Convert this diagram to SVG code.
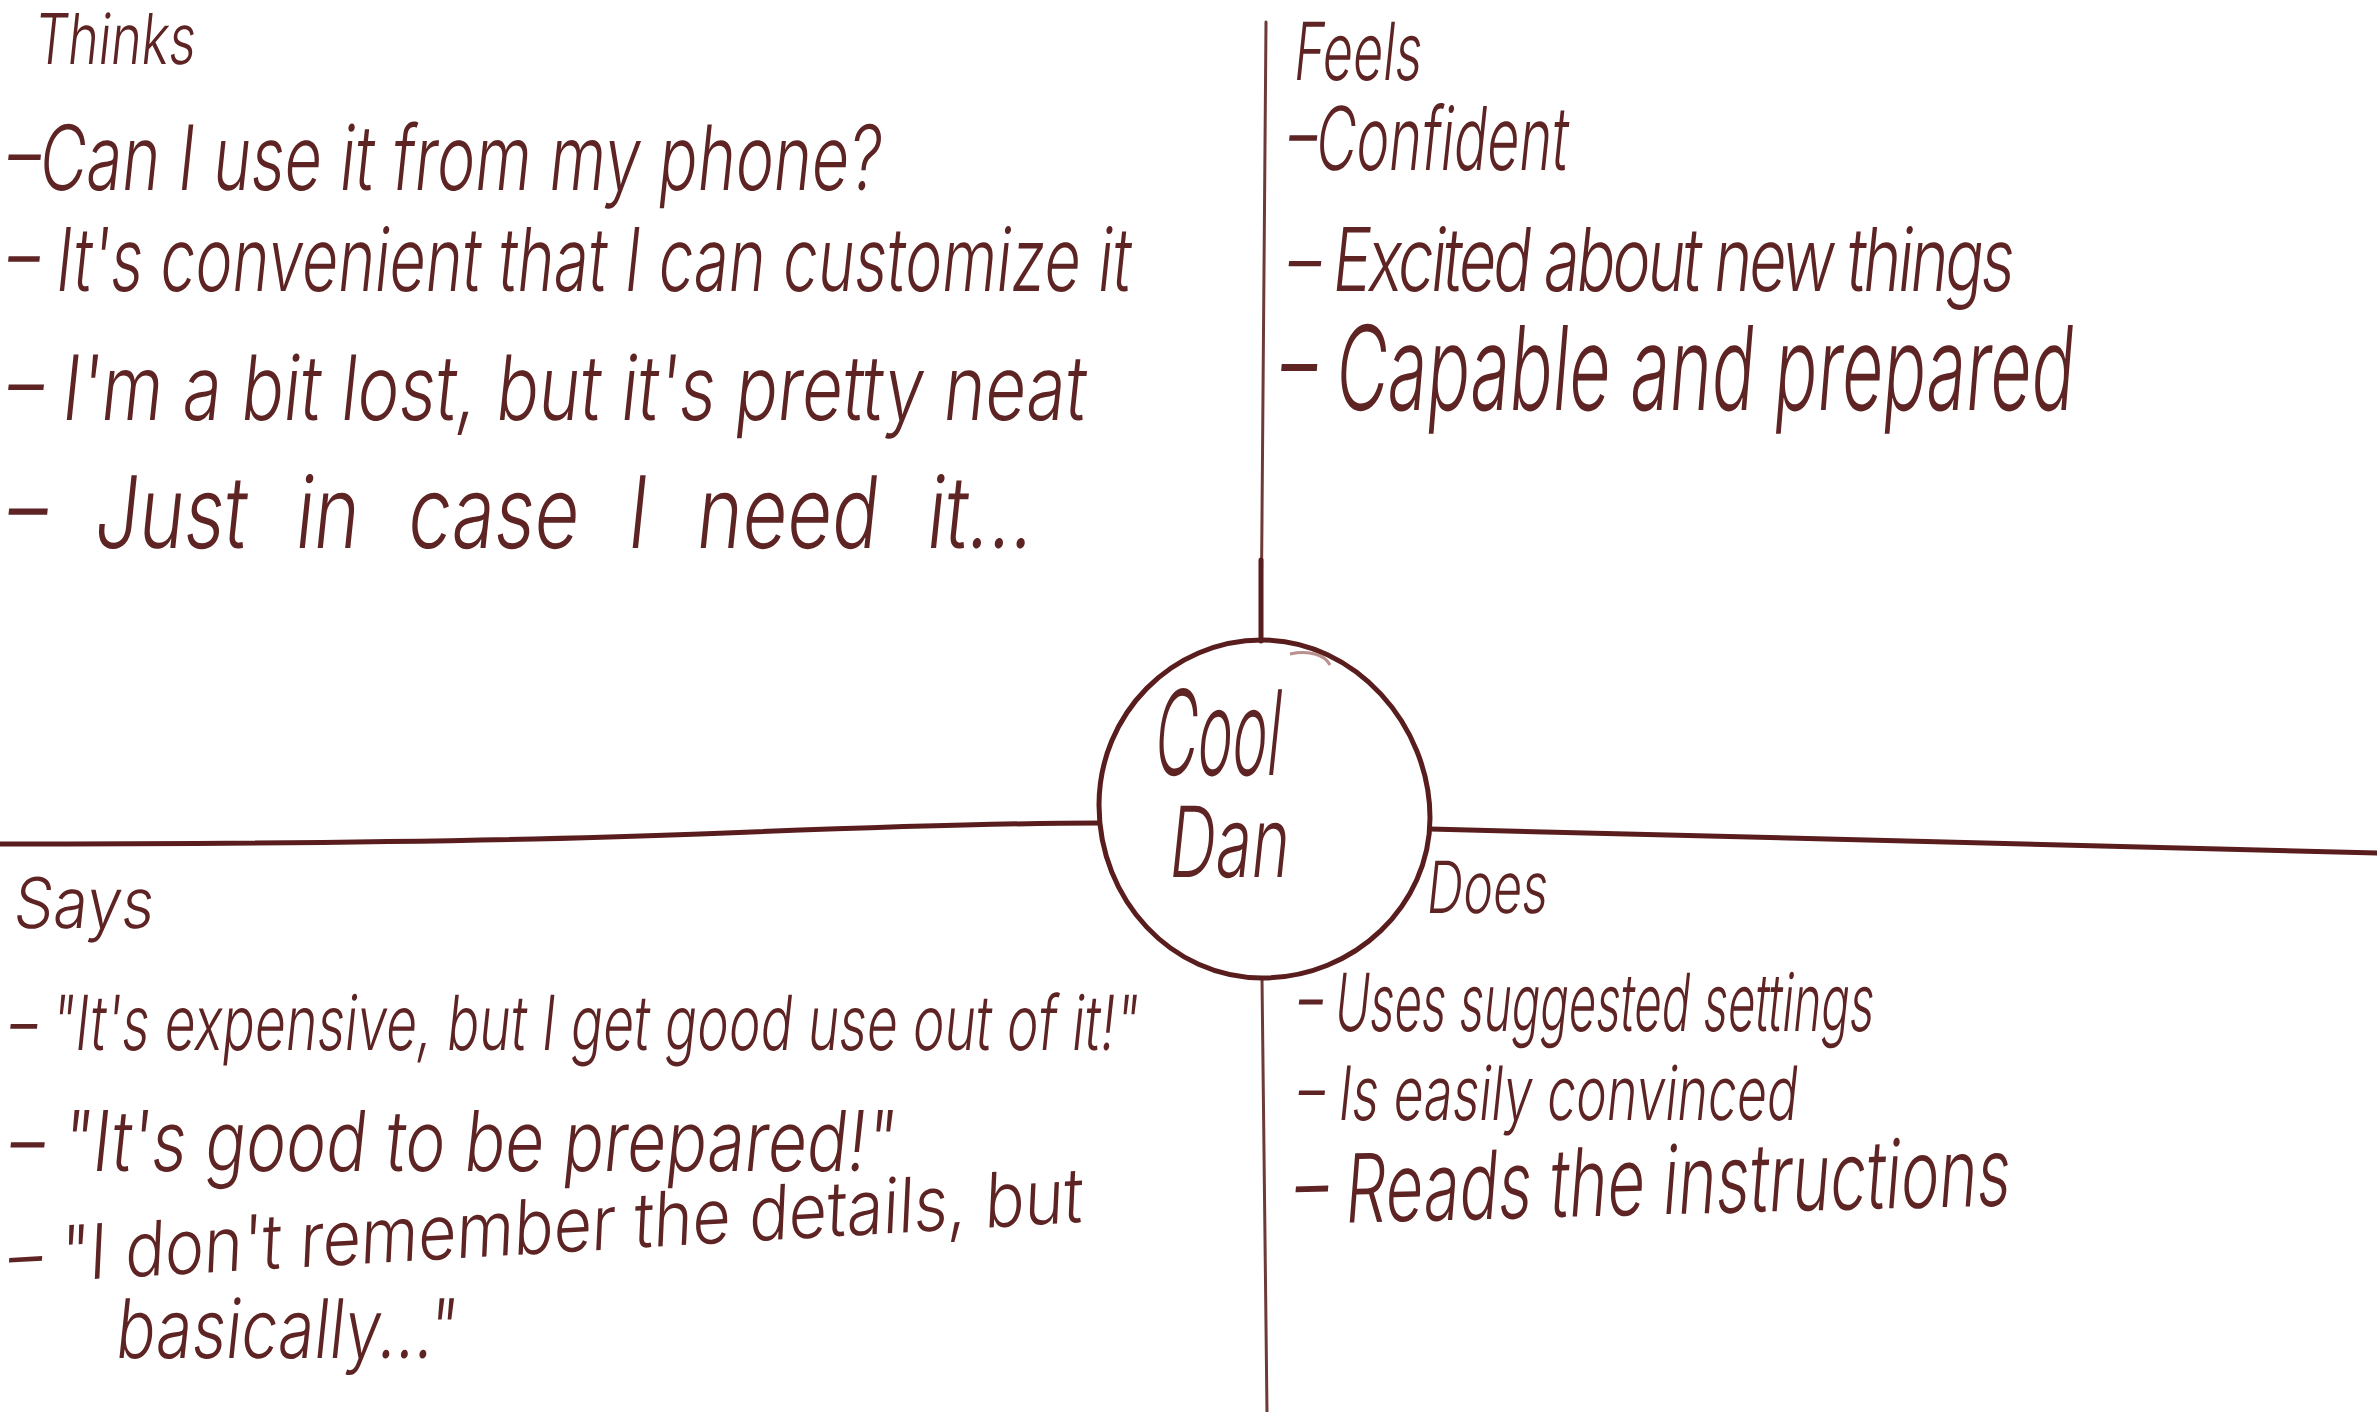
<svg xmlns="http://www.w3.org/2000/svg" width="2377" height="1412" viewBox="0 0 2377 1412">
  <defs>
    <style>
      .ink { fill: #5e2323; font-family: "Inter", "DejaVu Sans", sans-serif; font-weight: 340; }
      .axis { fill: none; stroke: #5a1d1d; stroke-linecap: round; stroke-linejoin: round; }
      .heavy { stroke-width: 5; }
      .thin { stroke-width: 3; stroke: #6e3a38; }
    </style>
  </defs>

  <rect x="0" y="0" width="2377" height="1412" fill="#ffffff"/>

  <!-- quadrant dividers -->
  <g id="connectors">
    <path class="axis thin" d="M1266,22 C1264,200 1262,420 1261,641"/>
    <path class="axis heavy" d="M1261,560 L1261,641"/>
    <path class="axis thin" d="M1262,978 C1264,1150 1266,1300 1267,1412"/>
    <path class="axis heavy" d="M0,844 C300,844 520,841 700,834 C900,826 1000,823 1099,823"/>
    <path class="axis heavy" d="M1430,829 C1700,834 2000,842 2377,853"/>
  </g>

  <!-- persona in the centre -->
  <g id="persona">
    <path class="axis heavy" d="M1262,640 C1355,640 1430,725 1430,818 C1430,905 1355,978 1262,978 C1172,978 1099,900 1099,805 C1099,714 1172,640 1262,640 Z"/>
    <path d="M1290,654 C1310,650 1325,655 1330,665" fill="none" stroke="#b9908e" stroke-width="3"/>
    <text class="ink" font-size="118" textLength="126" lengthAdjust="spacingAndGlyphs" transform="translate(1152,775) skewX(-6)">Cool</text>
    <text class="ink" font-size="98" textLength="120" lengthAdjust="spacingAndGlyphs" transform="translate(1167,877) skewX(-6)">Dan</text>
  </g>

  <!-- Thinks quadrant -->
  <g id="thinks">
    <text class="ink" font-size="70" textLength="161" lengthAdjust="spacingAndGlyphs" transform="translate(33,64) skewX(-6)">Thinks</text>
    <text class="ink" font-size="90" textLength="874" lengthAdjust="spacingAndGlyphs" transform="translate(5,190) skewX(-6)">–Can I use it from my phone?</text>
    <text class="ink" font-size="88" textLength="1124" lengthAdjust="spacingAndGlyphs" transform="translate(5,291) skewX(-6)">– It's convenient that I can customize it</text>
    <text class="ink" font-size="90" textLength="1079" lengthAdjust="spacingAndGlyphs" transform="translate(5,420) skewX(-6)">– I'm a bit lost, but it's pretty neat</text>
    <text class="ink" font-size="100" word-spacing="35" textLength="1026" lengthAdjust="spacingAndGlyphs" transform="translate(5,548) skewX(-6)">– Just in case I need it...</text>
  </g>

  <!-- Feels quadrant -->
  <g id="feels">
    <text class="ink" font-size="80" textLength="128" lengthAdjust="spacingAndGlyphs" transform="translate(1292,80) skewX(-6)">Feels</text>
    <text class="ink" font-size="88" textLength="280" lengthAdjust="spacingAndGlyphs" transform="translate(1286,170) skewX(-6)">–Confident</text>
    <text class="ink" font-size="88" letter-spacing="-4" textLength="723" lengthAdjust="spacingAndGlyphs" transform="translate(1286,291) skewX(-6)">– Excited about new things</text>
    <text class="ink" font-size="90" textLength="794" lengthAdjust="spacingAndGlyphs" transform="translate(1278,410) scale(1,1.3) skewX(-6)">– Capable and prepared</text>
  </g>

  <!-- Says quadrant -->
  <g id="says">
    <text class="ink" font-size="70" textLength="140" lengthAdjust="spacingAndGlyphs" transform="translate(12,928) skewX(-6)">Says</text>
    <text class="ink" font-size="76" textLength="1129" lengthAdjust="spacingAndGlyphs" transform="translate(8,1050) skewX(-6)">– "It's expensive, but I get good use out of it!"</text>
    <text class="ink" font-size="84" textLength="886" lengthAdjust="spacingAndGlyphs" transform="translate(8,1171) skewX(-6)">– "It's good to be prepared!"</text>
    <text class="ink" font-size="76" textLength="1076" lengthAdjust="spacingAndGlyphs" transform="translate(8,1284) rotate(-3.3) skewX(-6)">– "I don't remember the details, but</text>
    <text class="ink" font-size="82" textLength="341" lengthAdjust="spacingAndGlyphs" transform="translate(114,1358) skewX(-6)">basically..."</text>
  </g>

  <!-- Does quadrant -->
  <g id="does">
    <text class="ink" font-size="72" textLength="121" lengthAdjust="spacingAndGlyphs" transform="translate(1425,913) skewX(-6)">Does</text>
    <text class="ink" font-size="80" textLength="576" lengthAdjust="spacingAndGlyphs" transform="translate(1296,1031) skewX(-6)">– Uses suggested settings</text>
    <text class="ink" font-size="75" textLength="500" lengthAdjust="spacingAndGlyphs" transform="translate(1296,1120) skewX(-6)">– Is easily convinced</text>
    <text class="ink" font-size="95" textLength="716" lengthAdjust="spacingAndGlyphs" transform="translate(1293,1224) rotate(-1.5) skewX(-6)">– Reads the instructions</text>
  </g>
</svg>
